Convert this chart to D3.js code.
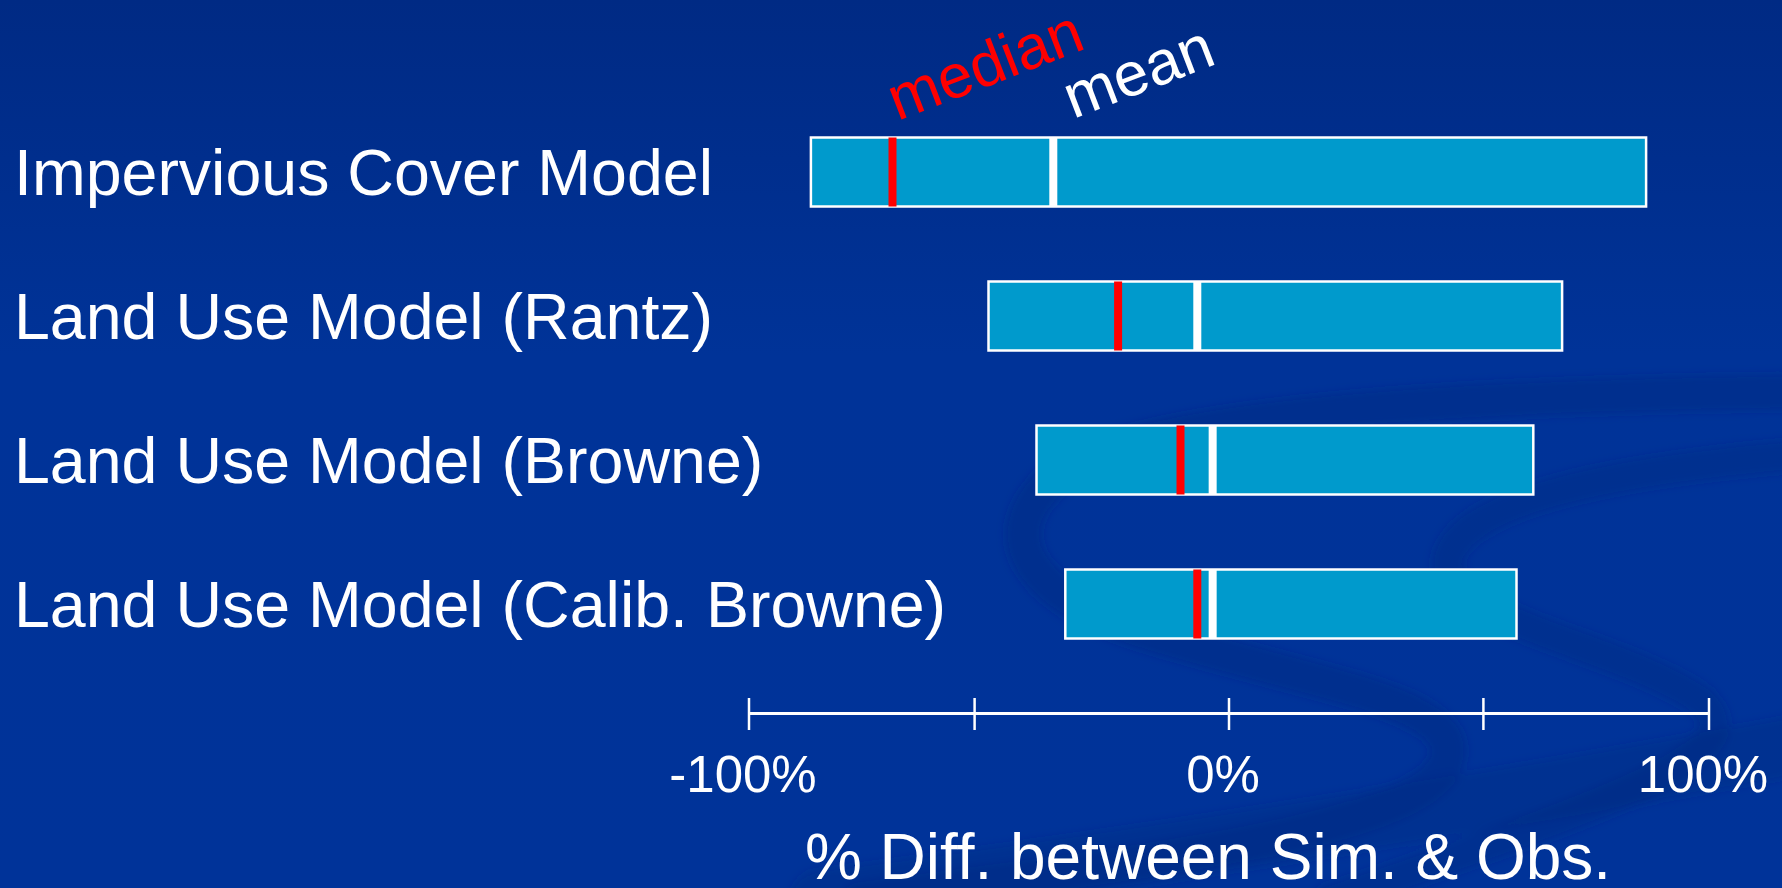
<!DOCTYPE html>
<html>
<head>
<meta charset="utf-8">
<script src="https://cdn.jsdelivr.net/npm/d3@7/dist/d3.min.js"></script>
<style>
  html, body { margin: 0; padding: 0; background: #003399; overflow: hidden; }
  svg { display: block; font-family: "Liberation Sans", Arial, sans-serif; }
</style>
</head>
<body>
<svg id="chart" width="1782" height="888"></svg>
<script>
// Model comparison: range of % difference between simulated and observed,
// with median (red) and mean (white) markers.
const categories = [
  "Impervious Cover Model",
  "Land Use Model (Rantz)",
  "Land Use Model (Browne)",
  "Land Use Model (Calib. Browne)"
];
const lowValues    = [-87, -50, -40, -34];
const highValues   = [87, 69.5, 63.5, 60];
const medianValues = [-70, -23, -10, -6.5];
const meanValues   = [-36.5, -6.5, -3.3, -3.3];

const tickValues = [-100, -53, 0, 53, 100];
const tickLabels = ["-100%", "", "0%", "", "100%"];
const axisTitle = "% Diff. between Sim. & Obs.";

const W = 1782, H = 888;
const svg = d3.select("#chart");

// ---- background ----
const defs = svg.append("defs");
const bg = defs.append("linearGradient").attr("id", "bg")
  .attr("x1", 0).attr("y1", 0).attr("x2", 0).attr("y2", 1);
bg.append("stop").attr("offset", 0).attr("stop-color", "#002a84");
bg.append("stop").attr("offset", 0.4).attr("stop-color", "#003398");
bg.append("stop").attr("offset", 1).attr("stop-color", "#003399");
defs.append("filter").attr("id", "soft")
  .attr("x", "-10%").attr("y", "-10%").attr("width", "120%").attr("height", "120%")
  .append("feGaussianBlur").attr("stdDeviation", 4);

svg.append("rect").attr("width", W).attr("height", H).attr("fill", "url(#bg)");

// decorative swirl bands
const swirls = svg.append("g").attr("filter", "url(#soft)")
  .attr("fill", "none").attr("stroke", "#00287f").attr("stroke-linecap", "round");
swirls.append("path")
  .attr("d", "M1800,392 C1500,395 1160,410 1065,470 C985,530 1020,600 1170,640 C1340,690 1470,705 1445,765 C1410,835 1120,865 860,900")
  .attr("stroke-width", 36).attr("stroke-opacity", 0.38);
swirls.append("path")
  .attr("d", "M1800,455 C1620,470 1460,500 1448,560 C1440,620 1620,645 1700,700 C1760,755 1620,800 1330,900")
  .attr("stroke-width", 32).attr("stroke-opacity", 0.35);
swirls.append("path")
  .attr("d", "M1800,745 C1500,800 1200,850 820,900")
  .attr("stroke-width", 60).attr("stroke-opacity", 0.3);

// ---- scales ----
const x = d3.scaleLinear().domain([-100, 100]).range([748.5, 1708.5]);
const y = d3.scalePoint().domain(categories).range([172, 604]);
const barH = 69;
const markW = 8;

const rows = categories.map((c, i) => ({
  cat: c, lo: lowValues[i], hi: highValues[i], med: medianValues[i], mean: meanValues[i]
}));

// ---- category labels ----
svg.append("g").selectAll("text").data(rows).join("text")
  .attr("x", 14)
  .attr("y", d => y(d.cat) + 23)
  .attr("fill", "#ffffff")
  .attr("font-size", 64.5)
  .text(d => d.cat);

// ---- range bars ----
const g = svg.append("g");
g.selectAll("rect.range").data(rows).join("rect")
  .attr("class", "range")
  .attr("x", d => x(d.lo))
  .attr("y", d => y(d.cat) - barH / 2)
  .attr("width", d => x(d.hi) - x(d.lo))
  .attr("height", barH)
  .attr("fill", "#009acc")
  .attr("stroke", "#ffffff")
  .attr("stroke-width", 2.5);

g.selectAll("rect.mean").data(rows).join("rect")
  .attr("class", "mean")
  .attr("x", d => x(d.mean) - markW / 2)
  .attr("y", d => y(d.cat) - barH / 2)
  .attr("width", markW)
  .attr("height", barH)
  .attr("fill", "#ffffff");

g.selectAll("rect.median").data(rows).join("rect")
  .attr("class", "median")
  .attr("x", d => x(d.med) - markW / 2)
  .attr("y", d => y(d.cat) - barH / 2)
  .attr("width", markW)
  .attr("height", barH)
  .attr("fill", "#ff0000");

// ---- marker legend (rotated labels over the first bar) ----
const first = rows[0];
svg.append("text")
  .attr("transform", `translate(${x(first.med) + 5},121) rotate(-21)`)
  .attr("fill", "#ff0000").attr("font-size", 62)
  .text("median");
svg.append("text")
  .attr("transform", `translate(${x(first.mean) + 20},119) rotate(-21)`)
  .attr("fill", "#ffffff").attr("font-size", 62)
  .text("mean");

// ---- x axis ----
const axisY = 713;
const axis = d3.axisBottom(x)
  .tickValues(tickValues)
  .tickFormat((d, i) => tickLabels[i])
  .tickSizeOuter(0);
const ax = svg.append("g").attr("transform", `translate(0,${axisY})`).call(axis);
ax.select(".domain").attr("stroke", "#ffffff").attr("stroke-width", 3);
ax.selectAll(".tick line")
  .attr("stroke", "#ffffff").attr("stroke-width", 2.5)
  .attr("y1", -15).attr("y2", 17);
ax.selectAll(".tick text")
  .attr("fill", "#ffffff")
  .attr("font-size", 51)
  .attr("font-family", "'Liberation Sans', Arial, sans-serif")
  .attr("x", -6).attr("y", 79).attr("dy", 0);

svg.append("text")
  .attr("x", 1208).attr("y", 879)
  .attr("text-anchor", "middle")
  .attr("fill", "#ffffff").attr("font-size", 64)
  .text(axisTitle);
</script>
</body>
</html>
